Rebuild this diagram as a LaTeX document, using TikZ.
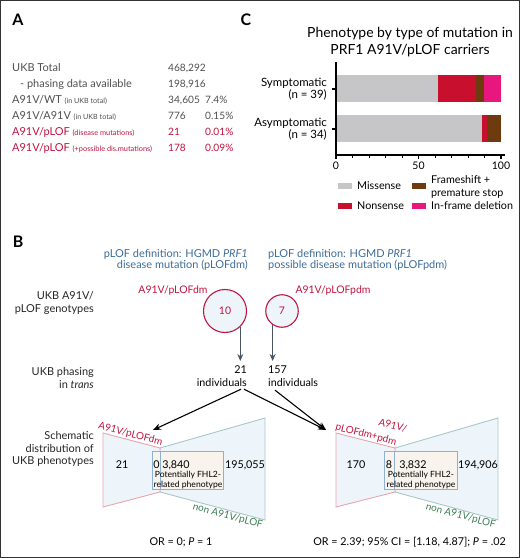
\documentclass[tikz,border=0pt]{standalone}
\usepackage{fontspec}
\setmainfont{Lato}
\usepackage{xcolor}
\definecolor{txtgray}{HTML}{505050}
\definecolor{ukbred}{HTML}{C0143F}
\definecolor{defblue}{HTML}{3D6C98}
\definecolor{nongreen}{HTML}{3C7C52}
\definecolor{missense}{HTML}{C6C6C8}
\definecolor{nonsense}{HTML}{C8102E}
\definecolor{frameshift}{HTML}{6E3B0E}
\definecolor{inframe}{HTML}{E8177D}
\definecolor{funnelfill}{HTML}{EEF5FA}
\definecolor{funnelred}{HTML}{E9A3AB}
\definecolor{funnelteal}{HTML}{A9C6C9}
\definecolor{boxblue}{HTML}{8EB1CF}
\definecolor{boxfill}{HTML}{F8F3EC}
\definecolor{arrowgray}{HTML}{4A5563}
\definecolor{framegray}{HTML}{333333}
\usepackage{tikz}
\usetikzlibrary{positioning,arrows.meta}

\begin{document}
\begin{tikzpicture}[x=1bp, y=-1bp, node distance = 16bp,
    tbl/.style={font=\fontsize{11}{12}\selectfont, text=txtgray, inner sep=0pt,
        text height=8bp, text depth=2bp},
    tblred/.style={tbl, text=ukbred},
    tblnum/.style={tbl, font=\fontsize{10.2}{12}\selectfont},
    tblnumred/.style={tblnum, text=ukbred},
    panel/.style={font=\fontsize{16}{16}\selectfont\bfseries, inner sep=0pt},
    axisline/.style={line width=1.3bp, black},
    chartlbl/.style={font=\fontsize{11.5}{12}\selectfont, align=right, inner sep=0pt},
    lgtext/.style={font=\fontsize{10.8}{13}\selectfont, align=left, inner sep=0pt},
    deftext/.style={font=\fontsize{11}{11.5}\selectfont, text=defblue, inner sep=0pt},
    rowhead/.style={font=\fontsize{11}{12.5}\selectfont, text=black!85, align=right, inner sep=0pt},
    genocirc/.style={circle, draw=ukbred, line width=1.1bp, fill=funnelfill,
        text=ukbred, font=\fontsize{10.5}{11}\selectfont, inner sep=0pt},
    genolbl/.style={font=\fontsize{10.5}{11}\selectfont, text=ukbred, inner sep=0pt},
    count/.style={font=\fontsize{10.8}{13}\selectfont, inner sep=0pt},
    graydown/.style={-{Stealth[length=7bp, width=6bp]}, arrowgray, line width=1.2bp},
    blackarrow/.style={-{Stealth[length=8bp, width=6.5bp]}, black, line width=1.1bp},
    redtrap/.style={draw=funnelred, fill=funnelfill, line width=0.9bp},
    tealtrap/.style={draw=funnelteal, fill=funnelfill, line width=0.9bp},
    phenobox/.style={draw=boxblue, fill=boxfill, line width=0.9bp},
    funnum/.style={font=\fontsize{10.8}{11}\selectfont, inner sep=0pt},
    fhltext/.style={font=\fontsize{8.6}{10.5}\selectfont, align=center, inner sep=0pt},
    edgered/.style={font=\fontsize{10}{11}\selectfont, text=ukbred, sloped, inner sep=1bp},
    edgegreen/.style={font=\fontsize{10}{11}\selectfont, text=nongreen, sloped, inner sep=1bp}]
    \useasboundingbox (0,0) rectangle (520,558);
    \draw[framegray, line width=1bp] (0.5,0.5) rectangle (519.5,557.5);

    % panel A: table
    \node (pA) [panel] at (18,20) {A};
    \coordinate (colv) at (168,0);
    \coordinate (colp) at (205,0);
    \node (r1) [tbl, anchor=west] at (12,69) {UKB Total};
    \node (r2) [tbl, below=of r1.west, anchor=west, xshift=8bp] {- phasing data available};
    \node (r3) [tbl, below=of r2.west, anchor=west, xshift=-8bp] {A91V/WT {\fontsize{7.2}{8}\selectfont(in UKB total)}};
    \node (r4) [tbl, below=of r3.west, anchor=west] {A91V/A91V {\fontsize{7.2}{8}\selectfont(in UKB total)}};
    \node (r5) [tblred, below=of r4.west, anchor=west] {A91V/pLOF {\fontsize{7.4}{8}\selectfont(disease mutations)}};
    \node (r6) [tblred, below=of r5.west, anchor=west] {A91V/pLOF {\fontsize{7.4}{8}\selectfont(+possible dis.mutations)}};
    \node (v1) [tblnum, anchor=west] at (r1.west -| colv) {468,292};
    \node (v2) [tblnum, anchor=west] at (r2.west -| colv) {198,916};
    \node (v3) [tblnum, anchor=west] at (r3.west -| colv) {34,605};
    \node (v4) [tblnum, anchor=west] at (r4.west -| colv) {776};
    \node (v5) [tblnumred, anchor=west] at (r5.west -| colv) {21};
    \node (v6) [tblnumred, anchor=west] at (r6.west -| colv) {178};
    \node (p3) [tblnum, anchor=west] at (r3.west -| colp) {7.4\%};
    \node (p4) [tblnum, anchor=west] at (r4.west -| colp) {0.15\%};
    \node (p5) [tblnumred, anchor=west] at (r5.west -| colp) {0.01\%};
    \node (p6) [tblnumred, anchor=west] at (r6.west -| colp) {0.09\%};

    % panel C: bar chart
    \node (pC) [panel] at (246,20) {C};
    \node (ctitle) [font=\fontsize{14}{17}\selectfont, align=center, inner sep=0pt] at (410,42)
        {Phenotype by type of mutation in\\PRF1 A91V/pLOF carriers};
    \foreach \a/\b/\c in {0/61.5/missense, 61.5/84.6/nonsense, 84.6/89.7/frameshift, 89.7/100/inframe}
        \fill[\c] (337+1.64*\a,75.5) rectangle (337+1.64*\b,102.5);
    \foreach \a/\b/\c in {0/88.2/missense, 88.2/91.2/nonsense, 91.2/100/frameshift}
        \fill[\c] (337+1.64*\a,115.5) rectangle (337+1.64*\b,142.5);
    \draw[axisline] (336,62) -- (336,155) -- (505,155);
    \draw[axisline] (336,89) -- ++(-4,0) (336,129) -- ++(-4,0);
    \foreach \t in {10,20,30,40,60,70,80,90}
        \draw[line width=1bp] (336+1.65*\t,155) -- ++(0,3);
    \foreach \t in {0,50,100}
        \draw[axisline] (336+1.65*\t,155) -- ++(0,4.5)
            node (tick\t) [below=2bp, font=\fontsize{10.5}{11}\selectfont, inner sep=0pt] {\t};
    \node (ysym) [chartlbl, anchor=east] at (327,89) {Symptomatic\\(n = 39)};
    \node (yasym) [chartlbl, anchor=east] at (327,129) {Asymptomatic\\(n = 34)};
    % legend
    \fill[missense] (338,183) rectangle (352,189);
    \fill[frameshift] (412,183) rectangle (426,189);
    \fill[nonsense] (338,203) rectangle (352,209);
    \fill[inframe] (412,203) rectangle (426,209);
    \node (lgmis) [lgtext, anchor=west] at (357,186) {Missense};
    \node (lgfs) [lgtext, anchor=west] at (431,186.5) {Frameshift +\\premature stop};
    \node (lgnon) [lgtext, anchor=west] at (357,206) {Nonsense};
    \node (lgif) [lgtext, anchor=west] at (431,206) {In-frame deletion};

    % panel B: phasing
    \node (pB) [panel] at (18,242) {B};
    \node (defdm) [deftext, align=right, anchor=north east] at (248,249)
        {pLOF definition: HGMD \textit{PRF1}\\disease mutation (pLOFdm)};
    \node (defpdm) [deftext, align=left, anchor=north west] at (268,249)
        {pLOF definition: HGMD \textit{PRF1}\\possible disease mutation (pLOFpdm)};
    \node (hgeno) [rowhead, anchor=east] at (94,303) {UKB A91V/\\pLOF genotypes};
    \node (hphase) [rowhead, anchor=east] at (94,378) {UKB phasing\\in \textit{trans}};
    \node (hsched) [rowhead, anchor=east] at (94,449) {Schematic\\distribution of\\UKB phenotypes};

    \node (gdm) [genolbl] at (173,291) {A91V/pLOFdm};
    \node (gpdm) [genolbl] at (333,291) {A91V/pLOFpdm};
    \node (c10) [genocirc, minimum size=43bp] at (225,311) {10};
    \node (c7) [genocirc, minimum size=32.5bp] at (282,311) {7};
    \node (n21) [count, align=right, anchor=north east] at (247,366) {21\\individuals};
    \node (n157) [count, align=left, anchor=north west] at (268,366) {157\\individuals};
    \draw[graydown, shorten >=5bp] (c10.-46) -- (c10.-46 |- n21.north);
    \draw[graydown, shorten >=5bp] (c7.-124) -- (c7.-124 |- n157.north);

    \coordinate (tipL) at (153,430);
    \coordinate (tipR) at (326,430);
    \draw[blackarrow] ([xshift=-6bp, yshift=-2bp]n21.south east) -- (tipL);
    \draw[blackarrow] ([xshift=-3bp, yshift=-2bp]n21.south east) -- (tipR);
    \draw[blackarrow] ([xshift=7bp, yshift=-3bp]n157.south west) -- (tipR);

    % left funnel
    \filldraw[tealtrap] (160,448) -- (265,418) -- (265,520) -- (160,492) -- cycle;
    \filldraw[redtrap] (103,433) -- (160,448) -- (160,492) -- (103,507) -- cycle;
    \filldraw[phenobox] (152,451) rectangle (223,489);
    \draw[boxblue, line width=0.9bp] (160.5,451) -- (160.5,489);
    \path (103,433) -- (160,448) node (eL) [edgered, pos=1, anchor=south east, xshift=2bp] {A91V/pLOFdm};
    \path (160,492) -- (265,520) node (nL) [edgegreen, pos=1, anchor=north east] {non A91V/pLOF};
    \node (fL1) [funnum] at (122,465) {21};
    \node (fL2) [funnum] at (156.5,465) {0};
    \node (fL3) [funnum] at (176,465) {3,840};
    \node (fL4) [fhltext] at (188,480) {Potentially FHL2-\\related phenotype};
    \node (fL5) [funnum] at (245,465) {195,055};
    \node (orL) [funnum] at (181,542) {OR = 0; \textit{P} = 1};

    % right funnel
    \filldraw[tealtrap] (395,448) -- (498,418) -- (498,520) -- (395,492) -- cycle;
    \filldraw[redtrap] (336,433) -- (395,448) -- (395,492) -- (336,507) -- cycle;
    \filldraw[phenobox] (384,451) rectangle (457,489);
    \draw[boxblue, line width=0.9bp] (394.5,451) -- (394.5,489);
    \path (336,433) -- (395,448) node (eR) [edgered, pos=1, anchor=south east, xshift=1bp] {pLOFdm+pdm};
    \node (eRa) [edgered, rotate=-14.3, anchor=south east] at ([xshift=8bp, yshift=3bp]eR.north east) {A91V/};
    \path (395,492) -- (498,520) node (nR) [edgegreen, pos=1, anchor=north east] {non A91V/pLOF};
    \node (fR1) [funnum] at (356,465) {170};
    \node (fR2) [funnum] at (389,465) {8};
    \node (fR3) [funnum] at (413,465) {3,832};
    \node (fR4) [fhltext] at (421,480) {Potentially FHL2-\\related phenotype};
    \node (fR5) [funnum] at (478,465) {194,906};
    \node (orR) [funnum, anchor=east] at (506,542) {OR = 2.39; 95\% CI = [1.18, 4.87]; \textit{P} = .02};
\end{tikzpicture}
\end{document}
